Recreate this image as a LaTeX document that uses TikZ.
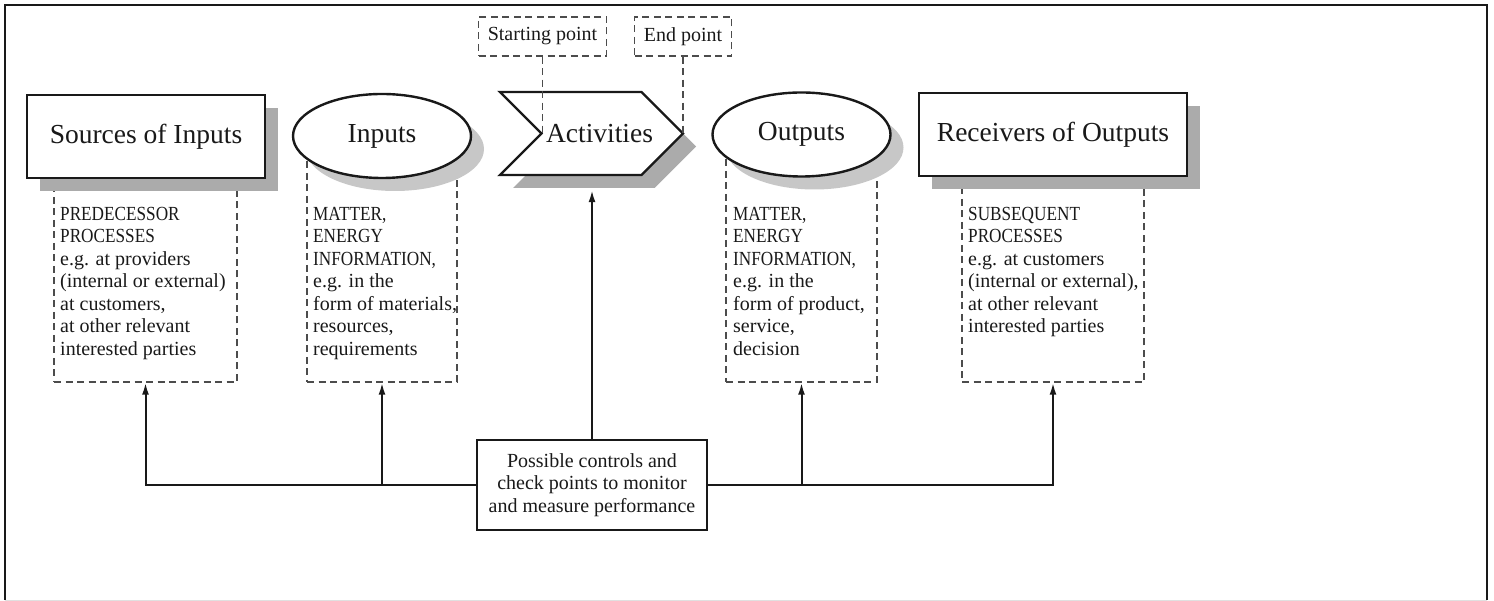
\documentclass[tikz,border=0pt]{standalone}
\usepackage{fontspec}
\setmainfont{Liberation Serif}
\newfontfamily\narrowcaps[FakeStretch=0.86]{Liberation Serif}
\usetikzlibrary{shapes.geometric,shapes.symbols,shadows,arrows.meta}
\begin{document}
\begin{tikzpicture}[x=1pt,y=-1pt,
  bigfont/.style={font=\fontsize{27.5}{32}\selectfont},
  smallfont/.style={font=\fontsize{20}{22.5}\selectfont},
  mainbox/.style={draw=black!90,line width=2.4pt,fill=white,text=black!90,inner sep=0pt,bigfont},
  boxshadow/.style={drop shadow={shadow xshift=13pt,shadow yshift=-13pt,fill=black!33,opacity=1}},
  ellshadow/.style={drop shadow={shadow xshift=13pt,shadow yshift=-13pt,fill=black!22,opacity=1}},
  dashbox/.style={draw=black!70,line width=1.5pt,dash pattern=on 7pt off 4.5pt,rectangle,inner sep=0pt},
  dashline/.style={draw=black!70,line width=1.5pt,dash pattern=on 7pt off 4.5pt},
  desc/.style={smallfont,text=black!90,align=left,inner sep=0pt,anchor=north west},
  arr/.style={draw=black!90,line width=2pt,-{Latex[length=12pt,width=7pt]}}
]
\useasboundingbox (0,0) rectangle (1494,601);
% frame
\draw[black!90,line width=2pt] (5,600) -- (5,5) -- (1487,5) -- (1487,600);
\draw[black!12,line width=1pt] (5,600) -- (1487,600);

% dashed description boxes (tops hidden under shapes)
\node[dashbox,minimum width=183pt,minimum height=197pt] (srcd) at (145.5,283.5) {};
\node[dashbox,minimum width=150pt,minimum height=242pt] (inpd) at (382,261) {};
\node[dashbox,minimum width=151pt,minimum height=242pt] (outd) at (801.5,261) {};
\node[dashbox,minimum width=182pt,minimum height=197pt] (recd) at (1053,283.5) {};

% main shapes
\node[mainbox,boxshadow,rectangle,minimum width=238pt,minimum height=83pt] (src) at (146,136.5) {Sources of Inputs};
\node[mainbox,ellshadow,ellipse,minimum width=178pt,minimum height=84pt] (inp) at (382,136) {Inputs};
\node[mainbox,boxshadow,signal,signal from=west,signal to=east,signal pointer angle=90,minimum width=183pt,minimum height=83pt] (act) at (591.5,133.5) {};
\node[bigfont,text=black!90,inner sep=0pt] (actt) at (599.5,133.5) {Activities};
\node[mainbox,ellshadow,ellipse,minimum width=178pt,minimum height=84pt] (out) at (801.5,134.5) {Outputs};
\node[mainbox,boxshadow,rectangle,minimum width=268pt,minimum height=83pt] (rec) at (1053,134.5) {Receivers of Outputs};

% starting / end point labels
\node[dashbox,smallfont,text=black!90,minimum width=128pt,minimum height=39pt] (sp) at (542.5,36.5) {Starting point};
\node[dashbox,smallfont,text=black!90,minimum width=97pt,minimum height=39pt] (ep) at (683,36.5) {End point};
\draw[dashline] (sp.south) -- (sp.south |- act.center);
\draw[dashline] (ep.south) -- (ep.south |- act.center);

% descriptions
\node[desc] (srct) at (60,207) {{\narrowcaps PREDECESSOR}\\{\narrowcaps PROCESSES}\\e.g. at providers\\(internal or external)\\at customers,\\at other relevant\\interested parties};
\node[desc] (inpt) at (313,207) {{\narrowcaps MATTER,}\\{\narrowcaps ENERGY}\\{\narrowcaps INFORMATION,}\\e.g. in the\\form of materials,\\resources,\\requirements};
\node[desc] (outt) at (733,207) {{\narrowcaps MATTER,}\\{\narrowcaps ENERGY}\\{\narrowcaps INFORMATION,}\\e.g. in the\\form of product,\\service,\\decision};
\node[desc] (rect) at (968,207) {{\narrowcaps SUBSEQUENT}\\{\narrowcaps PROCESSES}\\e.g. at customers\\(internal or external),\\at other relevant\\interested parties};

% control box
\node[draw=black!90,line width=2.6pt,fill=white,smallfont,text=black!90,align=center,inner sep=0pt,minimum width=230pt,minimum height=90pt] (ctrl) at (592,485) {Possible controls and\\check points to monitor\\and measure performance};

\coordinate (actsh) at ([yshift=-14pt]act.south);
\draw[arr] (ctrl.north) -- (ctrl.north |- actsh);
\draw[arr] (ctrl.west) -| (srcd.south);
\draw[arr] (ctrl.west -| inpd.south) -- (inpd.south);
\draw[arr] (ctrl.east) -| (recd.south);
\draw[arr] (ctrl.east -| outd.south) -- (outd.south);
\end{tikzpicture}
\end{document}
